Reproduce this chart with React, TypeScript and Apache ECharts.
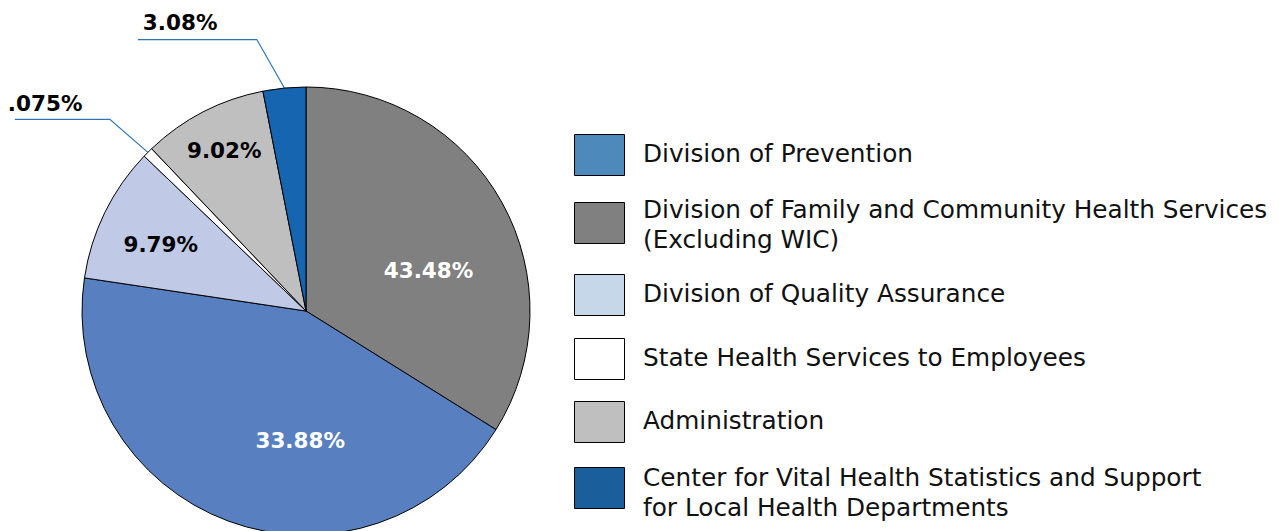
import React, { useEffect, useRef } from "react";
import * as echarts from "echarts";

// Pie slices in drawing order (clockwise from 12 o'clock)
const sliceNames = [
  "Division of Family and Community Health Services (Excluding WIC)",
  "Division of Prevention",
  "Division of Quality Assurance",
  "State Health Services to Employees",
  "Administration",
  "Center for Vital Health Statistics and Support for Local Health Departments",
];
const sliceValues = [33.88, 43.48, 9.79, 0.75, 9.02, 3.08];
// Labels as printed on the chart
const sliceLabels = ["43.48%", "33.88%", "9.79%", ".075%", "9.02%", "3.08%"];

// Legend (display order)
const legendNames = [
  "Division of Prevention",
  "Division of Family and Community Health Services (Excluding WIC)",
  "Division of Quality Assurance",
  "State Health Services to Employees",
  "Administration",
  "Center for Vital Health Statistics and Support for Local Health Departments",
];
const legendLines = [
  ["Division of Prevention"],
  ["Division of Family and Community Health Services", "(Excluding WIC)"],
  ["Division of Quality Assurance"],
  ["State Health Services to Employees"],
  ["Administration"],
  ["Center for Vital Health Statistics and Support", "for Local Health Departments"],
];

// Styles
const sliceColors = ["#808080", "#5880c1", "#c0c9e6", "#ffffff", "#bfbfbf", "#1565b1"];
const sliceLabelColors = ["#ffffff", "#ffffff", "#000000", "#000000", "#000000", "#000000"];
const sliceOutside = [false, false, false, true, false, true];
const legendColors = ["#4d8abb", "#808080", "#c5d7e8", "#ffffff", "#bfbfbf", "#1a5f9c"];
const legendIconTops = [134, 202, 274, 338, 401, 467];
const legendTextOffsets = [-1.5, 2, -1, -1.5, -1.5, 5];

type Tweak =
  | { kind: "inside"; dx: number; dy: number }
  | { kind: "outside"; ex: number; ey: number; len: number; tx: number; ty: number };

const labelTweaks: Tweak[] = [
  { kind: "inside", dx: 22, dy: 15 },
  { kind: "inside", dx: 34, dy: 22 },
  { kind: "inside", dx: -42, dy: -16 },
  { kind: "outside", ex: -38, ey: -33, len: 95, tx: -7, ty: 5 },
  { kind: "inside", dx: -29, dy: -58 },
  { kind: "outside", ex: -27.5, ey: -48.5, len: 119, tx: 5, ty: 6 },
];

const LEGEND_FONT = "'DejaVu Sans', 'Noto Sans', sans-serif";
const LABEL_FONT = "'DejaVu Sans', 'Noto Sans', sans-serif";

export default function App() {
  const ref = useRef<HTMLDivElement>(null);

  useEffect(() => {
    if (!ref.current) return;
    const chart = echarts.init(ref.current, null, { renderer: "svg" });

    const data = sliceNames.map((name, i) => ({
      name,
      value: sliceValues[i],
      itemStyle: { color: sliceColors[i] },
      label: {
        show: true,
        position: sliceOutside[i] ? "outside" : "inside",
        formatter: () => sliceLabels[i],
        color: sliceLabelColors[i],
      },
      labelLine: { show: sliceOutside[i] },
    }));

    const legendGraphics: any[] = [];
    legendNames.forEach((_, i) => {
      const top = legendIconTops[i];
      legendGraphics.push({
        type: "rect",
        shape: { x: 574.5, y: top + 0.5, width: 50, height: 41 },
        style: { fill: legendColors[i], stroke: "#000", lineWidth: 1 },
        silent: true,
      });
      legendGraphics.push({
        type: "text",
        x: 643,
        y: top + 20.5 + legendTextOffsets[i],
        style: {
          text: legendLines[i].join("\n"),
          fontFamily: LEGEND_FONT,
          fontSize: 24.75,
          lineHeight: 29.5,
          fill: "#111",
          align: "left",
          verticalAlign: "middle",
        },
        silent: true,
      });
    });

    chart.setOption({
      animation: false,
      backgroundColor: "#ffffff",
      graphic: legendGraphics,
      series: [
        {
          type: "pie",
          center: [306, 311],
          radius: 224,
          startAngle: 90,
          clockwise: true,
          avoidLabelOverlap: false,
          silent: true,
          itemStyle: { borderColor: "#000", borderWidth: 1 },
          label: {
            fontFamily: LABEL_FONT,
            fontSize: 21.5,
            fontWeight: "bold",
          },
          labelLine: {
            lineStyle: { color: "#2e75b6", width: 1.2 },
          },
          labelLayout: (p: any) => {
            const t = labelTweaks[p.dataIndex];
            if (!t) return {};
            if (t.kind === "inside") return { dx: t.dx, dy: t.dy };
            const pts = p.labelLinePoints;
            if (!pts || !pts.length) return {};
            const p0 = pts[0];
            const p1 = [p0[0] + t.ex, p0[1] + t.ey];
            const p2 = [p1[0] - t.len, p1[1]];
            return {
              x: p2[0] + t.tx,
              y: p1[1] - t.ty,
              align: "left",
              verticalAlign: "bottom",
              labelLinePoints: [p0, p1, p2],
            };
          },
          data,
        },
      ],
    });

    return () => chart.dispose();
  }, []);

  return (
    <div
      ref={ref}
      style={{ position: "absolute", left: 0, top: 0, width: 1279, height: 531 }}
    />
  );
}
